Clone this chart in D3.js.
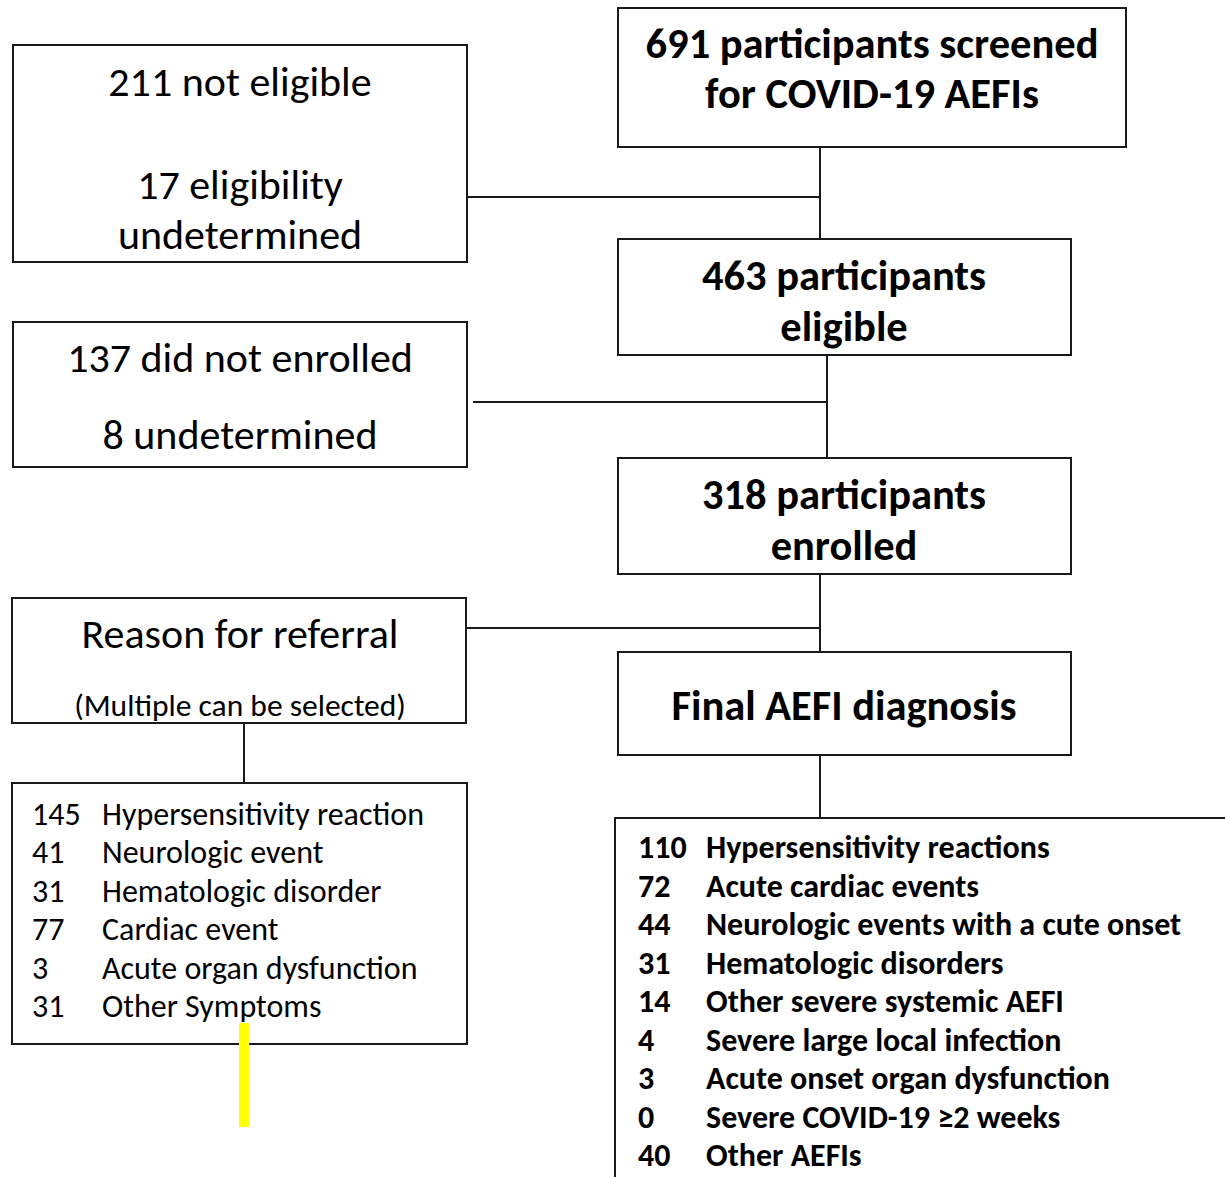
<!DOCTYPE html>
<html>
<head>
<meta charset="utf-8">
<script src="https://cdn.jsdelivr.net/npm/d3@7"></script>
<style>
  html, body { margin: 0; padding: 0; background: #fff; }
  svg { display: block; }
  text { font-family: Carlito, Calibri, Lato, sans-serif; fill: #000; }
</style>
</head>
<body>
<svg id="chart" width="1225" height="1177"></svg>
<script>
// ---------- data ----------
const screenedLines   = ["691 participants screened", "for COVID-19 AEFIs"];
const eligibleLines   = ["463 participants", "eligible"];
const enrolledLines   = ["318 participants", "enrolled"];
const diagnosisTitle  = ["Final AEFI diagnosis"];
const notEligibleLines = ["211 not eligible", "17 eligibility", "undetermined"];
const notEnrolledLines = ["137 did not enrolled", "8 undetermined"];
const referralTitle   = ["Reason for referral", "(Multiple can be selected)"];

const referralCounts = ["145", "41", "31", "77", "3", "31"];
const referralLabels = ["Hypersensitivity reaction", "Neurologic event", "Hematologic disorder",
                        "Cardiac event", "Acute organ dysfunction", "Other Symptoms"];

const diagnosisCounts = ["110", "72", "44", "31", "14", "4", "3", "0", "40"];
const diagnosisLabels = ["Hypersensitivity reactions", "Acute cardiac events",
                         "Neurologic events with a cute onset", "Hematologic disorders",
                         "Other severe systemic AEFI", "Severe large local infection",
                         "Acute onset organ dysfunction", "Severe COVID-19 \u22652 weeks", "Other AEFIs"];

// ---------- layout ----------
const svg = d3.select("#chart");
const stroke = "#1a1a1a";

function box(x, y, w, h) {
  svg.append("rect").attr("x", x).attr("y", y).attr("width", w).attr("height", h)
    .attr("fill", "none").attr("stroke", stroke).attr("stroke-width", 2);
}
function line(x1, y1, x2, y2) {
  svg.append("line").attr("x1", x1).attr("y1", y1).attr("x2", x2).attr("y2", y2)
    .attr("stroke", stroke).attr("stroke-width", 2);
}
function centered(lines, cx, baselines, size, weight) {
  svg.append("g").selectAll("text").data(lines).join("text")
    .attr("x", cx).attr("y", (d, i) => baselines[i])
    .attr("text-anchor", "middle")
    .attr("font-size", (d, i) => Array.isArray(size) ? size[i] : size)
    .attr("font-weight", weight)
    .text(d => d);
}

// connectors
line(820, 147, 820, 239);
line(467, 197, 820, 197);
line(827, 355, 827, 458);
line(473, 402, 827, 402);
line(820, 574, 820, 652);
line(467, 628, 820, 628);
line(244, 723, 244, 783);
line(820, 755, 820, 818);

// boxes
box(618, 8, 508, 139);
box(13, 45, 454, 217);
box(618, 239, 453, 116);
box(13, 322, 454, 145);
box(618, 458, 453, 116);
box(12, 598, 454, 125);
box(618, 652, 453, 103);
box(12, 783, 455, 261);
// final diagnosis list box (open to the right and bottom)
svg.append("path").attr("d", "M1227,818 L615,818 L615,1179")
  .attr("fill", "none").attr("stroke", stroke).attr("stroke-width", 2);

// box texts
centered(screenedLines, 872, [58, 108], 42.5, "bold");
centered(eligibleLines, 844, [290, 341], 42.5, "bold");
centered(enrolledLines, 844, [509, 560], 42.5, "bold");
centered(diagnosisTitle, 844, [720], 42.5, "bold");
centered(notEligibleLines, 240, [96, 199, 249], 42, "normal");
centered(notEnrolledLines, 240, [372, 449], 42, "normal");
centered(referralTitle, 240, [648, 716], [42, 31.5], "normal");

// referral list
const yRef = d3.scalePoint().domain(d3.range(referralCounts.length)).range([825, 1017]);
const gRef = svg.append("g");
gRef.selectAll("text.n").data(referralCounts).join("text").attr("class", "n")
  .attr("x", 32).attr("y", (d, i) => yRef(i)).attr("font-size", 32).text(d => d);
gRef.selectAll("text.l").data(referralLabels).join("text").attr("class", "l")
  .attr("x", 102).attr("y", (d, i) => yRef(i)).attr("font-size", 32).text(d => d);

// diagnosis list
const yDx = d3.scalePoint().domain(d3.range(diagnosisCounts.length)).range([858, 1166]);
const gDx = svg.append("g");
gDx.selectAll("text.n").data(diagnosisCounts).join("text").attr("class", "n")
  .attr("x", 638).attr("y", (d, i) => yDx(i)).attr("font-size", 32).attr("font-weight", "bold").text(d => d);
gDx.selectAll("text.l").data(diagnosisLabels).join("text").attr("class", "l")
  .attr("x", 706).attr("y", (d, i) => yDx(i)).attr("font-size", 32).attr("font-weight", "bold").text(d => d);

// yellow highlight bar
svg.append("rect").attr("x", 239).attr("y", 1023).attr("width", 10).attr("height", 104)
  .attr("fill", "#ffff00");
</script>
</body>
</html>
